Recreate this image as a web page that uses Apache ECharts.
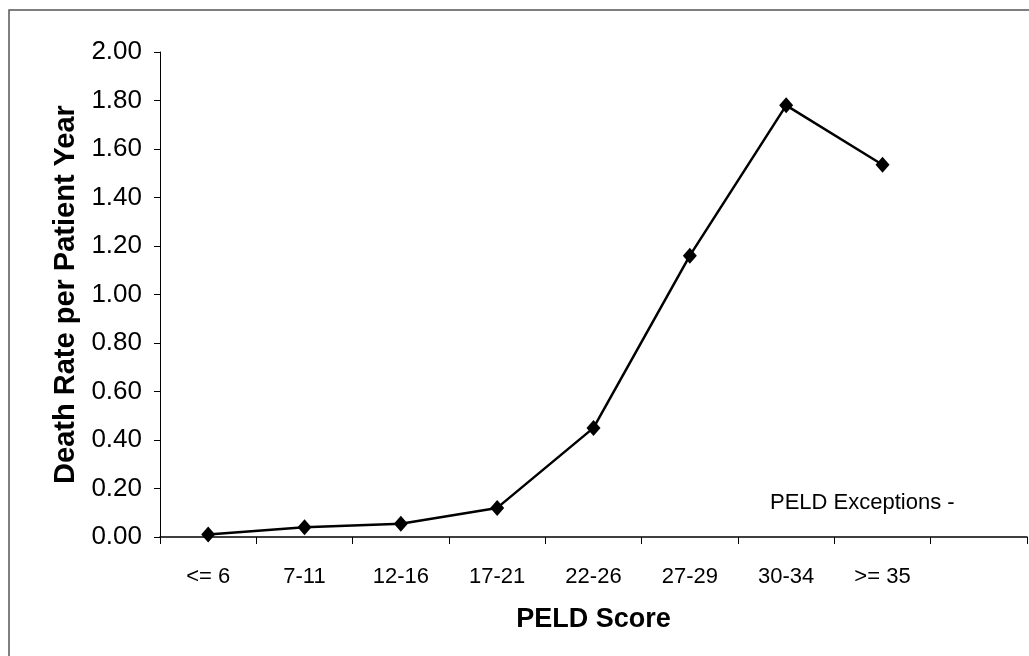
<!DOCTYPE html>
<html><head><meta charset="utf-8">
<script src="https://cdn.jsdelivr.net/npm/echarts@6/dist/echarts.min.js"></script>
<style>html,body{margin:0;padding:0;background:#fff}#c{width:1029px;height:656px}</style>
</head><body><div id="c"></div>
<script>
const categories = ['<= 6','7-11','12-16','17-21','22-26','27-29','30-34','>= 35',''];
const deathRate = [0.01,0.04,0.055,0.12,0.45,1.16,1.78,1.535,null];
const yTicks = {min:0,max:2,interval:0.2};
const noteText = 'PELD Exceptions -';
const font = 'Liberation Sans, Arial, sans-serif';
const chart = echarts.init(document.getElementById('c'));
chart.setOption({
  animation:false,
  backgroundColor:'#fff',
  grid:{left:160,right:2,top:52,bottom:119},
  xAxis:{type:'category',data:categories,boundaryGap:true,
    name:'PELD Score',nameLocation:'middle',nameGap:69,
    nameTextStyle:{fontFamily:font,fontSize:27,fontWeight:'bold',color:'#000'},
    axisLine:{lineStyle:{color:'#000',width:1.5}},
    axisTick:{show:true,length:7,lineStyle:{color:'#000'},alignWithLabel:false},
    axisLabel:{fontFamily:font,fontSize:22,color:'#000',margin:29}},
  yAxis:{type:'value',min:yTicks.min,max:yTicks.max,interval:yTicks.interval,
    name:'Death Rate per Patient Year',nameLocation:'middle',nameGap:80,
    nameTextStyle:{fontFamily:font,fontSize:29,fontWeight:'bold',color:'#000'},
    axisLine:{show:true,lineStyle:{color:'#000',width:1}},
    axisTick:{show:true,length:6,lineStyle:{color:'#000'}},
    splitLine:{show:false},
    axisLabel:{fontFamily:font,fontSize:26,color:'#000',margin:18,formatter:v=>v.toFixed(2)}},
  series:[{type:'line',data:deathRate,symbol:'diamond',symbolSize:[14,16],
    lineStyle:{color:'#000',width:2.5},itemStyle:{color:'#000'}}],
  graphic:[
    {type:'rect',shape:{x:9,y:10,width:1040,height:700},style:{fill:'none',stroke:'#555',lineWidth:1.5},silent:true},
    {type:'text',left:770,top:492,style:{text:noteText,fontFamily:font,fontSize:22,fill:'#000'}}
  ]
});
</script></body></html>
